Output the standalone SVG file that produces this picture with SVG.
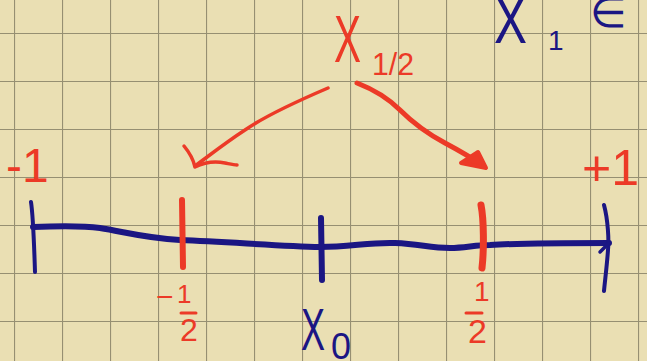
<svg xmlns="http://www.w3.org/2000/svg" width="647" height="361" viewBox="0 0 647 361">
  <defs>
    <pattern id="grid" x="14" y="33" width="48" height="48" patternUnits="userSpaceOnUse">
      <path d="M0,0 V48 M0,0 H48" fill="none" stroke="#000" stroke-opacity="0.36" stroke-width="2.2"/>
    </pattern>
    <style>
      .blue{fill:none;stroke:#1b1683;stroke-linecap:round;stroke-linejoin:round}
      .red{fill:none;stroke:#ec3a27;stroke-linecap:round;stroke-linejoin:round}
      .tr{fill:#ec3a27;font-family:"Liberation Sans",Arial,sans-serif}
      .tb{fill:#1b1683;font-family:"Liberation Sans",Arial,sans-serif}
    </style>
  </defs>

  <g id="paper">
    <rect width="647" height="361" fill="#eadfb3"/>
    <rect width="647" height="361" fill="url(#grid)"/>
  </g>

  <g id="axis">
    <path class="blue" stroke-width="6" d="M33,227 C60,226 85,226 100,228 C125,232 145,238 180,240 C230,242 280,246 320,247 C350,247 370,242 395,243 C420,244 430,248 450,248 C465,248 475,245 490,245 C520,243 560,243 609,243"/>
    <path class="blue" stroke-width="4" d="M31,202 C33,215 34,240 35,272"/>
    <path class="blue" stroke-width="4" d="M604,205 C608,220 609,240 608,250 C607,265 605,280 604,291"/>
    <path class="blue" stroke-width="3.5" d="M600,252 L609,243"/>
    <path class="blue" stroke-width="6" d="M321,218 L322,280"/>
  </g>

  <g id="ticks">
    <path class="red" stroke-width="6" d="M182,200 L183,267"/>
    <path class="red" stroke-width="7" d="M481,205 C484,220 484,250 482,268"/>
  </g>

  <g id="connectors">
    <path class="red" stroke-width="3.5" d="M328,88 C300,100 265,116 245,130 C225,143 210,155 195,166"/>
    <path class="red" stroke-width="3.5" d="M184,146 C189,152 193,158 195,167 C205,162 215,161 225,163 C230,164 234,165 237,165"/>
    <path class="red" stroke-width="5" d="M357,83 C375,90 390,100 400,110 C415,125 430,135 445,143 C460,151 472,158 482,165"/>
    <polygon points="486,168 461,163 478,152" fill="#ec3a27" stroke="#ec3a27" stroke-width="4" stroke-linejoin="round"/>
  </g>

  <g id="labels">
    <text class="tr" x="6" y="182" font-size="48">-1</text>
    <text class="tr" x="582" y="185" font-size="50">+1</text>

    <text class="tr" x="334" y="62" font-size="66" textLength="27" lengthAdjust="spacingAndGlyphs">X</text>
    <text class="tr" x="372" y="75" font-size="32" textLength="42" lengthAdjust="spacingAndGlyphs">1/2</text>

    <text class="tb" x="494" y="43" font-size="66" textLength="33" lengthAdjust="spacingAndGlyphs">X</text>
    <text class="tb" x="548" y="50" font-size="28">1</text>
    <text class="tb" x="590" y="27" font-size="42">∈</text>

    <text class="tr" x="156" y="307" font-size="30">−</text>
    <text class="tr" x="177" y="303" font-size="26">1</text>
    <path class="red" stroke-width="3" d="M181,313 L196,313"/>
    <text class="tr" x="180" y="341" font-size="32">2</text>

    <text class="tr" x="474" y="301" font-size="28">1</text>
    <path class="red" stroke-width="3" d="M466,313 L482,313"/>
    <text class="tr" x="468" y="343" font-size="34">2</text>

    <text class="tb" x="301" y="350" font-size="60" textLength="24" lengthAdjust="spacingAndGlyphs">X</text>
    <text class="tb" x="331" y="359" font-size="36">0</text>
  </g>
</svg>
